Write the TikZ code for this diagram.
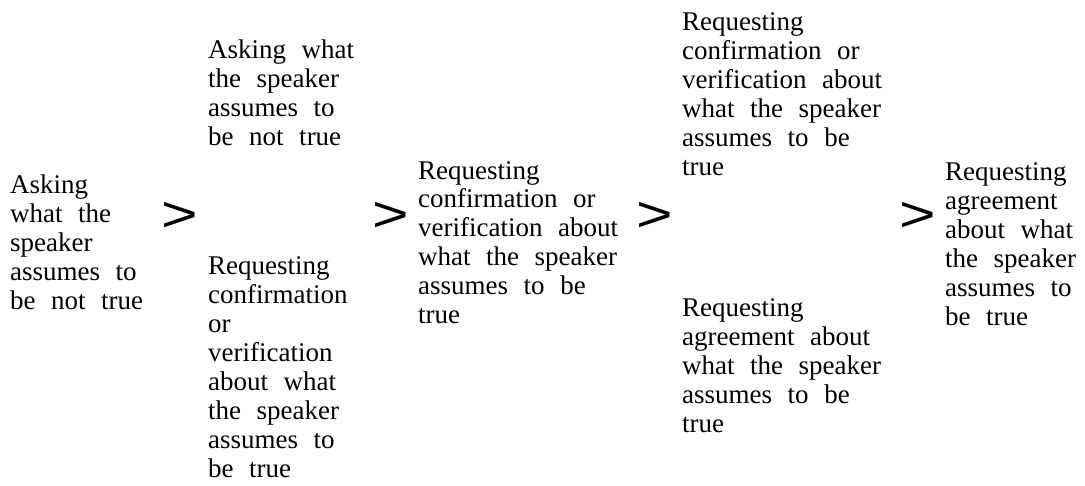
\documentclass[tikz,border=0pt]{standalone}
\usepackage{fontspec}
\usepackage{graphicx}
\setmainfont[WordSpace=2.3]{Liberation Serif}
\newfontfamily\gtfamily{Liberation Sans}
\newcommand{\stagefont}{\fontsize{27}{29}\selectfont}
\newcommand{\gtsign}{\gtfamily\fontsize{50}{50}\selectfont\scalebox{1.25}[1]{>}}
\tikzset{
  stage/.style={anchor=base west, align=left, inner sep=0pt, font=\stagefont},
  gt/.style={anchor=center, inner sep=0pt}
}
\begin{document}
\begin{tikzpicture}[x=1pt,y=-1pt]
      \useasboundingbox (0,0) rectangle (1085,486);
      % stages, placed by the baseline of their last line
      \path
        (10,310) node[stage] (ask1){Asking\\what the\\speaker\\assumes to\\be not true}
        (208,146) node[stage] (ask2){Asking what\\the speaker\\assumes to\\be not true}
        (208,477) node[stage] (conf2){Requesting\\confirmation\\or\\verification\\about what\\the speaker\\assumes to\\be true}
        (418,324) node[stage] (conf3){Requesting\\confirmation or\\verification about\\what the speaker\\assumes to be\\true}
        (682,176) node[stage] (conf4){Requesting\\confirmation or\\verification about\\what the speaker\\assumes to be\\true}
        (682,432) node[stage] (agree4){Requesting\\agreement about\\what the speaker\\assumes to be\\true}
        (945,326) node[stage] (agree5){Requesting\\agreement\\about what\\the speaker\\assumes to\\be true};
      \path
        (180,217) node[gt] (gt1){\gtsign}
        (391,217) node[gt] (gt2){\gtsign}
        (655,217) node[gt] (gt3){\gtsign}
        (918,217) node[gt] (gt4){\gtsign};
    \end{tikzpicture}
\end{document}
